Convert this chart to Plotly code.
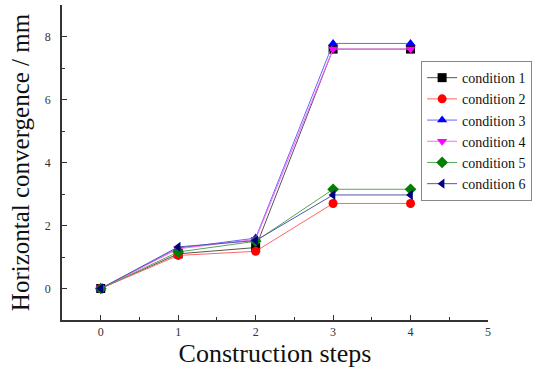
import plotly.graph_objects as go

steps = [0, 1, 2, 3, 4]
names = ["condition 1", "condition 2", "condition 3", "condition 4", "condition 5", "condition 6"]
c1 = [0, 1.10, 1.30, 7.60, 7.60]
c2 = [0, 1.05, 1.18, 2.70, 2.70]
c3 = [0, 1.28, 1.60, 7.78, 7.78]
c4 = [0, 1.26, 1.56, 7.60, 7.60]
c5 = [0, 1.16, 1.50, 3.15, 3.15]
c6 = [0, 1.32, 1.52, 2.97, 2.97]
series = [c1, c2, c3, c4, c5, c6]
colors = ["#000000", "#ff0000", "#0000ff", "#ff00ff", "#008000", "#000080"]
line_colors = ["#555555", "#ff6666", "#6666ff", "#ff66ff", "#55aa55", "#5555aa"]
symbols = ["square", "circle", "triangle-up", "triangle-down", "diamond", "triangle-left"]

fig = go.Figure()
for n, s, c, lc, sym in zip(names, series, colors, line_colors, symbols):
    fig.add_trace(go.Scatter(
        x=steps, y=s, name=n, mode="lines+markers",
        line=dict(color=lc, width=1),
        marker=dict(color=c, symbol=sym, size=9),
    ))

font_family = "Liberation Serif"
fig.update_layout(
    width=545, height=379,
    margin=dict(l=62, r=57, t=5, b=59),
    plot_bgcolor="white", paper_bgcolor="white",
    font=dict(family=font_family, color="#222222"),
    showlegend=True,
    legend=dict(
        x=0.843, y=0.822, xanchor="left", yanchor="top",
        bordercolor="#888888", borderwidth=1, bgcolor="white",
        font=dict(family=font_family, size=14, color="#111111"),
        tracegroupgap=0, itemwidth=30,
    ),
    xaxis=dict(
        range=[-0.5, 5], tickvals=[0, 1, 2, 3, 4, 5],
        showgrid=False, zeroline=False, automargin=False,
        showline=True, linecolor="#333333", linewidth=1.5,
        ticks="inside", ticklen=5, tickcolor="#333333",
        minor=dict(ticks="inside", ticklen=3, dtick=0.5, tick0=0, tickcolor="#333333"),
        tickfont=dict(family=font_family, size=12, color="#333333"),
        title=dict(text="Construction steps", font=dict(family=font_family, size=26, color="#111111"), standoff=4),
    ),
    yaxis=dict(
        range=[-1, 9], tickvals=[0, 2, 4, 6, 8],
        showgrid=False, zeroline=False, automargin=False,
        showline=True, linecolor="#333333", linewidth=1.5,
        ticks="inside", ticklen=5, tickcolor="#333333",
        minor=dict(ticks="inside", ticklen=3, dtick=1, tick0=0, tickcolor="#333333"),
        tickfont=dict(family=font_family, size=12, color="#333333"),
        ticklabelstandoff=7,
        title=dict(text="Horizontal convergence / mm", font=dict(family=font_family, size=25, color="#111111"), standoff=8),
    ),
)
fig.write_html("out.html", config={"displayModeBar": False},
               post_script="document.body.style.margin='0';")
